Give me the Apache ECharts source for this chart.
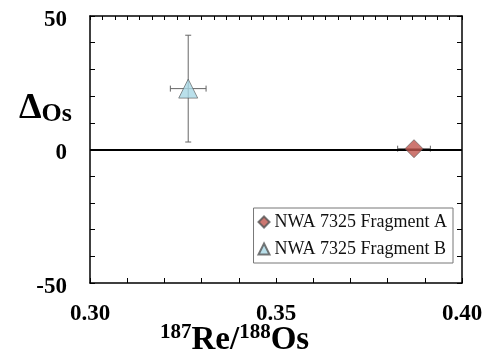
<!DOCTYPE html>
<html>
<head>
<meta charset="utf-8">
<script src="https://cdn.jsdelivr.net/npm/echarts@6/dist/echarts.min.js"></script>
<style>
  html, body { margin: 0; padding: 0; background: #fff; }
  #chart { width: 490px; height: 360px; }
</style>
</head>
<body>
<div id="chart"></div>
<script>
// datos
const nombres = ['NWA 7325 Fragment A', 'NWA 7325 Fragment B'];
const xValores = [0.3871, 0.3264];
const yValores = [0.3, 22.8];
const xError = [0.0044, 0.0048];
const yError = [0, 20.0];
const simbolos = ['diamond', 'triangle'];
const colores = ['#c0554d', '#a9d8e6'];
const tamanos = [18, 19];

const fuente = "'Liberation Serif', 'Times New Roman', serif";

const dom = document.getElementById('chart');
const myChart = echarts.init(dom);

// barras de error (series custom)
const errData = xValores.map((x, i) => [x, yValores[i], xError[i], yError[i]]);

function dibujarError(params, api) {
  const x = api.value(0), y = api.value(1), ex = api.value(2), ey = api.value(3);
  const children = [];
  const estilo = { stroke: '#666', lineWidth: 1 };
  const cap = 3;
  if (ex > 0) {
    const a = api.coord([x - ex, y]), b = api.coord([x + ex, y]);
    children.push({ type: 'line', shape: { x1: a[0], y1: a[1], x2: b[0], y2: b[1] }, style: estilo });
    children.push({ type: 'line', shape: { x1: a[0], y1: a[1] - cap, x2: a[0], y2: a[1] + cap }, style: estilo });
    children.push({ type: 'line', shape: { x1: b[0], y1: b[1] - cap, x2: b[0], y2: b[1] + cap }, style: estilo });
  }
  if (ey > 0) {
    const a = api.coord([x, y - ey]), b = api.coord([x, y + ey]);
    children.push({ type: 'line', shape: { x1: a[0], y1: a[1], x2: b[0], y2: b[1] }, style: estilo });
    children.push({ type: 'line', shape: { x1: a[0] - cap, y1: a[1], x2: a[0] + cap, y2: a[1] }, style: estilo });
    children.push({ type: 'line', shape: { x1: b[0] - cap, y1: b[1], x2: b[0] + cap, y2: b[1] }, style: estilo });
  }
  return { type: 'group', children: children };
}

const series = [
  {
    type: 'custom',
    name: 'err',
    renderItem: dibujarError,
    data: errData,
    z: 2,
    silent: true,
    markLine: {
      silent: true,
      symbol: 'none',
      label: { show: false },
      lineStyle: { color: '#000', width: 2, type: 'solid' },
      data: [{ yAxis: 0 }]
    }
  }
];

nombres.forEach((n, i) => {
  series.push({
    name: n,
    type: 'scatter',
    symbol: simbolos[i],
    symbolSize: tamanos[i],
    itemStyle: { color: colores[i], borderColor: '#555', borderWidth: 0.8 },
    data: [[xValores[i], yValores[i]]],
    z: 5
  });
});

const option = {
  animation: false,
  grid: { left: 90, right: 28, top: 16, bottom: 77, containLabel: false },
  legend: {
    data: nombres.map((n, i) => ({ name: n, icon: simbolos[i] })),
    orient: 'vertical',
    right: 37,
    top: 208,
    itemWidth: 11,
    itemHeight: 11,
    itemGap: 9,
    padding: [5, 6, 5, 4],
    borderColor: '#777',
    borderWidth: 1,
    textStyle: { fontFamily: fuente, fontSize: 18, color: '#111' }
  },
  xAxis: [
    {
      type: 'value',
      min: 0.30,
      max: 0.40,
      interval: 0.01,
      position: 'bottom',
      axisLine: { show: true, onZero: false, lineStyle: { color: '#000', width: 1.5 } },
      axisTick: { show: true, inside: true, length: 5, lineStyle: { color: '#000' } },
      splitLine: { show: false },
      axisLabel: {
        margin: 20,
        fontFamily: fuente,
        fontWeight: 'bold',
        fontSize: 23,
        color: '#000',
        formatter: v => {
          const r = Math.round(v * 100);
          return r % 5 === 0 ? (r / 100).toFixed(2) : '';
        }
      }
    },
    {
      type: 'value',
      min: 0.30,
      max: 0.40,
      interval: 0.01,
      position: 'top',
      axisLine: { show: true, onZero: false, lineStyle: { color: '#000', width: 1.5 } },
      axisTick: { show: true, inside: true, length: 4, lineStyle: { color: '#000' } },
      minorTick: { show: true, splitNumber: 3, length: 4, lineStyle: { color: '#000' } },
      splitLine: { show: false },
      axisLabel: { show: false }
    }
  ],
  yAxis: [
    {
      type: 'value',
      min: -50,
      max: 50,
      interval: 10,
      position: 'left',
      axisLine: { show: true, onZero: false, lineStyle: { color: '#000', width: 1.5 } },
      axisTick: { show: true, inside: true, length: 5, lineStyle: { color: '#000' } },
      splitLine: { show: false },
      axisLabel: {
        margin: 23,
        fontFamily: fuente,
        fontWeight: 'bold',
        fontSize: 23,
        color: '#000',
        verticalAlign: 'top',
        lineHeight: 8,
        formatter: v => (v % 50 === 0 ? String(v) : '')
      }
    },
    {
      type: 'value',
      min: -50,
      max: 50,
      interval: 10,
      position: 'right',
      axisLine: { show: true, onZero: false, lineStyle: { color: '#000', width: 1.5 } },
      axisTick: { show: true, inside: true, length: 5, lineStyle: { color: '#000' } },
      splitLine: { show: false },
      axisLabel: { show: false }
    }
  ],
  graphic: [
    {
      type: 'text',
      left: 19,
      top: 69,
      style: {
        text: '{d|Δ}{s|Os}',
        rich: {
          d: { fontFamily: fuente, fontWeight: 'bold', fontSize: 36, fill: '#000', verticalAlign: 'top', lineHeight: 36 },
          s: { fontFamily: fuente, fontWeight: 'bold', fontSize: 26, fill: '#000', verticalAlign: 'bottom', lineHeight: 26, padding: [32, 0, 0, 0] }
        }
      }
    },
    {
      type: 'text',
      left: 160,
      top: 322,
      style: {
        text: '{p|187}{g|Re/}{p|188}{g|Os}',
        rich: {
          p: { fontFamily: fuente, fontWeight: 'bold', fontSize: 21, fill: '#000', verticalAlign: 'top', padding: [0, 0, 14, 0] },
          g: { fontFamily: fuente, fontWeight: 'bold', fontSize: 33, fill: '#000', verticalAlign: 'bottom' }
        }
      }
    }
  ],
  series: series
};

myChart.setOption(option);
</script>
</body>
</html>
